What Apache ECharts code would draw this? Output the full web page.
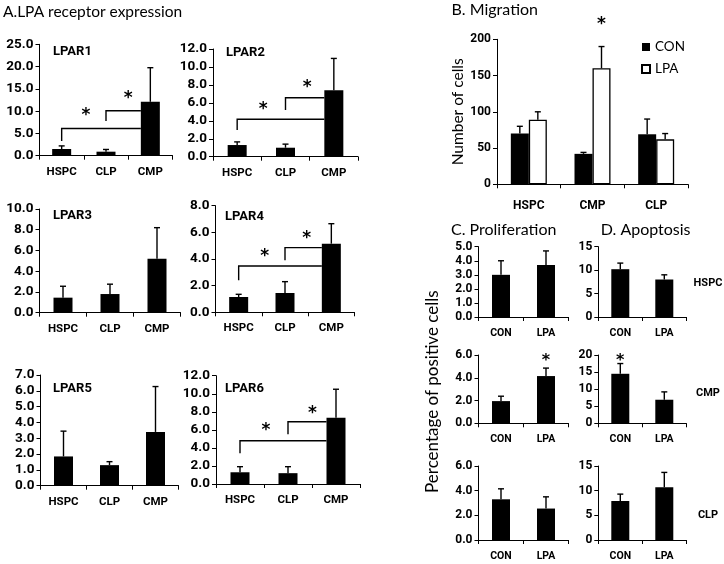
<!DOCTYPE html>
<html><head><meta charset="utf-8">
<script src="https://cdn.jsdelivr.net/npm/echarts@6/dist/echarts.min.js"></script>
<style>html,body{margin:0;padding:0;background:#fff}#c{width:724px;height:564px}</style>
</head><body><div id="c"></div>
<script>
// ---------- DATA ----------
const lparCats = ['HSPC', 'CLP', 'CMP'];
const lpar1Mean = [1.5, 0.9, 12.1];  const lpar1Sd = [0.7, 0.5, 7.65];
const lpar2Mean = [1.3, 1.0, 7.4];   const lpar2Sd = [0.35, 0.4, 3.55];
const lpar3Mean = [1.45, 1.8, 5.2];  const lpar3Sd = [1.1, 0.95, 3.0];
const lpar4Mean = [1.15, 1.45, 5.15]; const lpar4Sd = [0.2, 0.85, 1.5];
const lpar5Mean = [1.85, 1.3, 3.4];  const lpar5Sd = [1.6, 0.22, 2.87];
const lpar6Mean = [1.3, 1.2, 7.35];  const lpar6Sd = [0.62, 0.72, 3.15];
const lparTicks = {LPAR1: [25, 5], LPAR2: [12, 2], LPAR3: [10, 2], LPAR4: [8, 2], LPAR5: [7, 1], LPAR6: [12, 2]};
// brackets: [fromCategory, level, dropTo, toCategory]
const lpar1Brackets = [[0, 6.1, 3.3, 2], [1, 10.1, 7.8, 2]];
const lpar2Brackets = [[0, 4.17, 2.97, 2], [1, 6.57, 5.2, 2]];
const lpar4Brackets = [[0, 3.47, 2.4, 2], [1, 4.85, 3.9, 2]];
const lpar6Brackets = [[0, 4.8, 3.4, 2], [1, 6.9, 5.5, 2]];
// stars: [leftCategory, fraction toward next, value]
const lpar1Stars = [[0, 0.55, 9.9], [1, 0.5, 13.8]];
const lpar2Stars = [[0, 0.54, 5.76], [1, 0.45, 8.18]];
const lpar4Stars = [[0, 0.56, 4.5], [1, 0.47, 5.85]];
const lpar6Stars = [[0, 0.54, 6.35], [1, 0.51, 8.27]];

const migCats = ['HSPC', 'CMP', 'CLP'];
const migConMean = [70, 42, 69];  const migConSd = [10, 2, 21];
const migLpaMean = [89, 160, 62]; const migLpaSd = [11, 30, 8];
const migTicks = [200, 50];
const migStars = [[1, 0, 226]];

const cdCats = ['CON', 'LPA'];
const rowLabels = ['HSPC', 'CMP', 'CLP'];
const prolHspcMean = [3.0, 3.7];   const prolHspcSd = [1.0, 1.0];
const prolCmpMean = [1.95, 4.15];  const prolCmpSd = [0.43, 0.7];
const prolClpMean = [3.3, 2.55];   const prolClpSd = [0.85, 0.95];
const apoHspcMean = [10.2, 8.0];   const apoHspcSd = [1.3, 1.0];
const apoCmpMean = [14.5, 6.9];    const apoCmpSd = [3.0, 2.3];
const apoClpMean = [7.9, 10.7];    const apoClpSd = [1.4, 3.0];
const prolTicks = [[5, 1], [6, 2], [6, 2]];
const apoTicks = [[15, 5], [20, 5], [15, 5]];
const prolCmpStars = [[1, 0, 5.8]];
const apoCmpStars = [[0, 0, 19.4]];

// ---------- RENDERING ----------
const FONT = 'Lato, "Open Sans", sans-serif';
const BFONT = 'Roboto, "Liberation Sans", sans-serif';
const STARFONT = '"DejaVu Sans", sans-serif';
const grids = [], xAxes = [], yAxes = [], series = [];

function addPanel(box, cats, yMax, yInt, decimals, tickFs, catFs, catMargin) {
  const gi = grids.length;
  grids.push({left: box[0], top: box[1], width: box[2], height: box[3], containLabel: false});
  xAxes.push({type: 'category', gridIndex: gi, data: cats,
    axisLine: {show: true, lineStyle: {color: '#000', width: 1}},
    axisTick: {show: true, length: 4, lineStyle: {color: '#000'}},
    axisLabel: {color: '#000', fontFamily: BFONT, fontWeight: 'bold', fontSize: catFs, margin: catMargin}});
  yAxes.push({type: 'value', gridIndex: gi, min: 0, max: yMax, interval: yInt,
    splitLine: {show: false},
    axisLine: {show: true, lineStyle: {color: '#000', width: 1}},
    axisTick: {show: true, length: 4, lineStyle: {color: '#000'}},
    axisLabel: {color: '#000', fontFamily: BFONT, fontWeight: 'bold', fontSize: tickFs, margin: 6,
      formatter: v => v.toFixed(decimals)}});
  return gi;
}
function barSeries(gi, name, mean, bw, fill) {
  return {type: 'bar', name: name, xAxisIndex: gi, yAxisIndex: gi, data: mean, barWidth: bw, barGap: '0%',
    itemStyle: {color: fill, borderColor: '#000', borderWidth: fill === '#000' ? 0 : 1.3}, silent: true};
}
function errSeries(gi, mean, sd, offset) {
  return {type: 'custom', xAxisIndex: gi, yAxisIndex: gi, z: 5, silent: true,
    data: mean.map((m, i) => [i, m, sd[i]]), encode: {x: 0, y: 1},
    renderItem: (p, api) => {
      const i = api.value(0), m = api.value(1), s = api.value(2);
      const a = api.coord([i, m]), b = api.coord([i, m + s]);
      const x = a[0] + offset;
      return {type: 'group', children: [
        {type: 'line', shape: {x1: x, y1: a[1], x2: x, y2: b[1]}, style: {stroke: '#000', lineWidth: 1.4}},
        {type: 'line', shape: {x1: x - 3, y1: b[1], x2: x + 3, y2: b[1]}, style: {stroke: '#000', lineWidth: 1.4}}]};
    }};
}
function bracketSeries(gi, rows, halfBar) {
  return {type: 'custom', xAxisIndex: gi, yAxisIndex: gi, z: 4, silent: true,
    data: rows, encode: {x: 0, y: 1},
    renderItem: (p, api) => {
      const f = api.value(0), lv = api.value(1), dr = api.value(2), t = api.value(3);
      const a = api.coord([f, lv]), d = api.coord([f, dr]), e = api.coord([t, lv]);
      return {type: 'polyline', shape: {points: [[a[0], d[1]], [a[0], a[1]], [e[0] - halfBar, a[1]]]},
        style: {stroke: '#000', lineWidth: 1.4, fill: null}};
    }};
}
function starSeries(gi, rows, fs, xOff) {
  return {type: 'custom', xAxisIndex: gi, yAxisIndex: gi, z: 6, silent: true, clip: false,
    data: rows, encode: {x: 0, y: 2},
    renderItem: (p, api) => {
      const i0 = api.value(0), fr = api.value(1), v = api.value(2);
      const a = api.coord([i0, v]), b = api.coord([i0 + 1, v]);
      const x = a[0] + (b[0] - a[0]) * fr + xOff;
      return {type: 'text', x: x, y: a[1] + fs * 0.24,
        style: {text: '*', font: 'bold ' + fs + 'px ' + STARFONT, fill: '#000', align: 'center', verticalAlign: 'middle'}};
    }};
}

// LPAR panels
const lparDefs = [
  ['LPAR1', [39.5, 44.3, 133, 111.4], lpar1Mean, lpar1Sd, lpar1Brackets, lpar1Stars],
  ['LPAR2', [213, 49, 145, 107.7], lpar2Mean, lpar2Sd, lpar2Brackets, lpar2Stars],
  ['LPAR3', [39.5, 209, 141, 103.7], lpar3Mean, lpar3Sd, [], []],
  ['LPAR4', [215.5, 205.7, 139, 106.6], lpar4Mean, lpar4Sd, lpar4Brackets, lpar4Stars],
  ['LPAR5', [40.5, 375, 138, 110.7], lpar5Mean, lpar5Sd, [], []],
  ['LPAR6', [216, 375.7, 144, 108.3], lpar6Mean, lpar6Sd, lpar6Brackets, lpar6Stars]
];
const lparTitlePos = [[53, 52], [226, 52.5], [53, 216], [225, 217], [53, 389], [225, 388.5]];
lparDefs.forEach(d => {
  const t = lparTicks[d[0]];
  const gi = addPanel(d[1], lparCats, t[0], t[1], 1, 13.5, 11.5, 10);
  series.push(barSeries(gi, d[0], d[2], 19, '#000'));
  series.push(errSeries(gi, d[2], d[3], 0));
  if (d[4].length) series.push(bracketSeries(gi, d[4], 9.5));
  if (d[5].length) series.push(starSeries(gi, d[5], 17, 0));
});

// Migration
const mg = addPanel([497, 39.3, 191, 145], migCats, migTicks[0], migTicks[1], 0, 12, 12, 16);
yAxes[mg].name = 'Number of cells';
yAxes[mg].nameLocation = 'middle';
yAxes[mg].nameRotate = 90;
yAxes[mg].nameGap = 29;
yAxes[mg].nameTextStyle = {fontFamily: FONT, fontSize: 15.5, color: '#000'};
series.push(barSeries(mg, 'CON', migConMean, 18, '#000'));
series.push(barSeries(mg, 'LPA', migLpaMean, 18, '#fff'));
series.push(errSeries(mg, migConMean, migConSd, -9));
series.push(errSeries(mg, migLpaMean, migLpaSd, 9));
series.push(starSeries(mg, migStars, 17, 9));

// Proliferation & Apoptosis
const rowBoxes = [[246.7, 70.3], [355, 68.3], [466, 74]];
const prolData = [[prolHspcMean, prolHspcSd, []], [prolCmpMean, prolCmpSd, prolCmpStars], [prolClpMean, prolClpSd, []]];
const apoData = [[apoHspcMean, apoHspcSd, []], [apoCmpMean, apoCmpSd, apoCmpStars], [apoClpMean, apoClpSd, []]];
rowBoxes.forEach((rb, r) => {
  const gp = addPanel([478.5, rb[0], 90, rb[1]], cdCats, prolTicks[r][0], prolTicks[r][1], 1, 12, 10.5, 11);
  series.push(barSeries(gp, 'p' + r, prolData[r][0], 18, '#000'));
  series.push(errSeries(gp, prolData[r][0], prolData[r][1], 0));
  if (prolData[r][2].length) series.push(starSeries(gp, prolData[r][2], 16, 0));
  const ga = addPanel([598.3, rb[0], 88, rb[1]], cdCats, apoTicks[r][0], apoTicks[r][1], 0, 12, 10.5, 11);
  series.push(barSeries(ga, 'a' + r, apoData[r][0], 18, '#000'));
  series.push(errSeries(ga, apoData[r][0], apoData[r][1], 0));
  if (apoData[r][2].length) series.push(starSeries(ga, apoData[r][2], 16, 0));
});

function txt(x, y, s, fs, weight, align, fam) {
  return {type: 'text', x: x, y: y, silent: true,
    style: {text: s, font: (weight || 'normal') + ' ' + fs + 'px ' + (fam || FONT), fill: '#000', verticalAlign: 'middle', align: align || 'left'}};
}
const graphics = [
  txt(3, 12, 'A.LPA receptor expression', 15.5),
  txt(451.5, 9.5, 'B. Migration', 16),
  txt(451, 230, 'C. Proliferation', 16),
  txt(600.7, 230, 'D. Apoptosis', 16),
  {type: 'text', x: 433, y: 391.7, rotation: Math.PI / 2, silent: true,
    style: {text: 'Percentage of positive cells', font: '17px ' + FONT, fill: '#000', align: 'center', verticalAlign: 'middle'}}
];
lparDefs.forEach((d, i) => graphics.push(txt(lparTitlePos[i][0], lparTitlePos[i][1], d[0], 13, 'bold', 'left', BFONT)));
const rowLabelY = [283.3, 393.3, 515];
rowLabels.forEach((s, i) => graphics.push(txt(708, rowLabelY[i], s, 11, 'bold', 'center', BFONT)));

const chart = echarts.init(document.getElementById('c'), null, {renderer: 'canvas'});
chart.setOption({
  animation: false,
  backgroundColor: '#fff',
  grid: grids, xAxis: xAxes, yAxis: yAxes, series: series,
  legend: {data: ['CON', 'LPA'], orient: 'vertical', left: 636, top: 35, itemWidth: 8, itemHeight: 8, itemGap: 8,
    icon: 'rect', textStyle: {fontFamily: FONT, fontSize: 13.5, color: '#000'}, selectedMode: false},
  graphic: graphics
});
</script></body></html>
